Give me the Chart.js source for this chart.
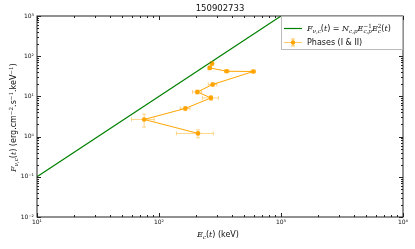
<!DOCTYPE html>
<html>
<head>
<meta charset="utf-8">
<script src="https://cdn.jsdelivr.net/npm/chart.js@4/dist/chart.umd.min.js"></script>
<style>
  html, body { margin: 0; padding: 0; background: #fff; }
  #wrap { width: 415px; height: 249px; }
</style>
</head>
<body>
<div id="wrap"><canvas id="sedChart" width="415" height="249"></canvas></div>
<script>
// peak energy (keV) and flux, with errors
const peakE = [271.6, 260.6, 358.9, 593, 275.4, 206, 266.6, 164.4, 75.5, 208.9];
const peakEErr = [10, 8, 15, 25, 22, 18, 40, 15, 16, 70];
const fluxF = [65.8, 51.1, 42.3, 41.6, 19.8, 12.9, 9.18, 5.01, 2.67, 1.20];
const fluxFErr = [8, 5, 3, 3, 2, 1.5, 1.2, 0.6, 0.95, 0.27];

// reference line F = N E^-1 E^2
const lineE = [10, 1000];
const lineF = [0.1, 1000];

const xTicks = [10, 100, 1000, 10000];
const yTicks = [0.01, 0.1, 1, 10, 100, 1000];
const supers = { '-': '⁻', '0': '⁰', '1': '¹', '2': '²', '3': '³', '4': '⁴' };
function powLabel(v) {
    const e = String(Math.round(Math.log10(v)));
    return '10' + e.split('').map(c => supers[c]).join('');
}

const FONT = '"DejaVu Sans", sans-serif';
const SERIF = '"DejaVu Serif", serif';

// draws a run of pieces [text, kind, extra] where kind = n | i | sub | sup | both
function drawMath(ctx, x, y, parts, size) {
    ctx.textBaseline = 'alphabetic';
    ctx.textAlign = 'left';
    for (const [txt, kind, low] of parts) {
        let s = size, dy = 0, f = FONT, st = '';
        if (kind === 'i') { f = SERIF; st = 'italic '; }
        if (kind === 'sub') { s = size * 0.7; dy = size * 0.25; f = SERIF; st = 'italic '; }
        if (kind === 'sup' || kind === 'both') { s = size * 0.7; dy = -size * 0.4; f = SERIF; }
        ctx.font = st + s + 'px ' + f;
        ctx.fillText(txt, x, y + dy);
        let adv = ctx.measureText(txt).width;
        if (kind === 'both') {
            ctx.font = 'italic ' + s + 'px ' + SERIF;
            ctx.fillText(low, x, y + size * 0.3);
            adv = Math.max(adv, ctx.measureText(low).width);
        }
        x += adv;
    }
    return x;
}

const decor = {
    id: 'decor',
    afterDraw(chart) {
        const ctx = chart.ctx;
        const a = chart.chartArea;
        const xs = chart.scales.x, ys = chart.scales.y;
        ctx.save();

        // error bars
        ctx.strokeStyle = 'rgba(255,165,0,0.45)';
        ctx.lineWidth = 1;
        for (let i = 0; i < peakE.length; i++) {
            const px = xs.getPixelForValue(peakE[i]);
            const py = ys.getPixelForValue(fluxF[i]);
            const x0 = xs.getPixelForValue(peakE[i] - peakEErr[i]);
            const x1 = xs.getPixelForValue(peakE[i] + peakEErr[i]);
            const y0 = ys.getPixelForValue(fluxF[i] - fluxFErr[i]);
            const y1 = ys.getPixelForValue(fluxF[i] + fluxFErr[i]);
            ctx.beginPath();
            ctx.moveTo(x0, py); ctx.lineTo(x1, py);
            ctx.moveTo(x0, py - 2); ctx.lineTo(x0, py + 2);
            ctx.moveTo(x1, py - 2); ctx.lineTo(x1, py + 2);
            ctx.moveTo(px, y0); ctx.lineTo(px, y1);
            ctx.moveTo(px - 2, y0); ctx.lineTo(px + 2, y0);
            ctx.moveTo(px - 2, y1); ctx.lineTo(px + 2, y1);
            ctx.stroke();
        }

        // frame
        ctx.strokeStyle = '#222';
        ctx.lineWidth = 1;
        ctx.strokeRect(a.left, a.top, a.right - a.left, a.bottom - a.top);

        // inward ticks on all four sides
        ctx.beginPath();
        for (let e = 1; e <= 4; e++) {
            for (let m = 1; m <= 9; m++) {
                const v = m * Math.pow(10, e);
                if (v > 10000) break;
                const p = Math.round(xs.getPixelForValue(v)) + 0.5;
                const len = m === 1 ? 4 : 2;
                ctx.moveTo(p, a.bottom); ctx.lineTo(p, a.bottom - len);
                ctx.moveTo(p, a.top); ctx.lineTo(p, a.top + len);
            }
        }
        for (let e = -2; e <= 3; e++) {
            for (let m = 1; m <= 9; m++) {
                const v = m * Math.pow(10, e);
                if (v > 1000) break;
                const p = Math.round(ys.getPixelForValue(v)) + 0.5;
                const len = m === 1 ? 4 : 2;
                ctx.moveTo(a.left, p); ctx.lineTo(a.left + len, p);
                ctx.moveTo(a.right, p); ctx.lineTo(a.right - len, p);
            }
        }
        ctx.stroke();

        ctx.fillStyle = '#111';
        // title
        ctx.font = '8.5px ' + FONT;
        ctx.textAlign = 'center';
        ctx.textBaseline = 'middle';
        ctx.fillText('150902733', (a.left + a.right) / 2, 9);

        // x label
        drawMath(ctx, 197, 237, [['E', 'i'], ['c', 'sub'], ['(', 'n'], ['t', 'i'], [') (keV)', 'n']], 8);

        // y label, rotated
        ctx.save();
        ctx.translate(16, 172);
        ctx.rotate(-Math.PI / 2);
        drawMath(ctx, 0, 0, [['F', 'i'], ['ν,c', 'sub'], ['(', 'n'], ['t', 'i'], [') (erg.cm', 'n'], ['−2', 'sup'], ['.s', 'n'], ['−1', 'sup'], ['.keV', 'n'], ['−1', 'sup'], [')', 'n']], 8);
        ctx.restore();

        // legend
        const lx = 281, ly = 16, lw = 121, lh = 33;
        ctx.fillStyle = '#fff';
        ctx.fillRect(lx, ly, lw, lh);
        ctx.strokeStyle = '#bbb';
        ctx.strokeRect(lx + 0.5, ly + 0.5, lw, lh);
        ctx.strokeStyle = 'green';
        ctx.lineWidth = 1.2;
        ctx.beginPath(); ctx.moveTo(284, 28.5); ctx.lineTo(302, 28.5); ctx.stroke();
        ctx.strokeStyle = 'rgba(255,165,0,0.6)';
        ctx.lineWidth = 1;
        ctx.beginPath();
        ctx.moveTo(284, 42.5); ctx.lineTo(302, 42.5);
        ctx.moveTo(293, 39); ctx.lineTo(293, 46);
        ctx.moveTo(291, 39); ctx.lineTo(295, 39);
        ctx.moveTo(291, 46); ctx.lineTo(295, 46);
        ctx.stroke();
        ctx.fillStyle = 'orange';
        ctx.beginPath(); ctx.arc(293, 42.5, 2.2, 0, Math.PI * 2); ctx.fill();
        ctx.fillStyle = '#111';
        drawMath(ctx, 307, 31, [['F', 'i'], ['ν,c', 'sub'], ['(', 'n'], ['t', 'i'], [') = ', 'n'], ['N', 'i'], ['c,p', 'sub'], ['E', 'i'], ['−1', 'both', 'c,p'], ['E', 'i'], ['2', 'both', 'c'], ['(', 'n'], ['t', 'i'], [')', 'n']], 8);
        drawMath(ctx, 307, 45, [['Phases (I & II)', 'n']], 8);

        ctx.restore();
    }
};

new Chart(document.getElementById('sedChart'), {
    type: 'scatter',
    data: {
        datasets: [
            {
                label: 'line',
                data: lineE.map((e, i) => ({ x: e, y: lineF[i] })),
                showLine: true,
                borderColor: 'green',
                borderWidth: 1.2,
                pointRadius: 0
            },
            {
                label: 'Phases (I & II)',
                data: peakE.map((e, i) => ({ x: e, y: fluxF[i] })),
                showLine: true,
                borderColor: 'orange',
                borderWidth: 1,
                backgroundColor: 'orange',
                pointBackgroundColor: 'orange',
                pointBorderWidth: 0,
                pointRadius: 2.3
            }
        ]
    },
    options: {
        responsive: false,
        animation: false,
        devicePixelRatio: 1,
        layout: { padding: { left: 0, right: 12, top: 16, bottom: 0 } },
        plugins: { legend: { display: false }, title: { display: false }, tooltip: { enabled: false } },
        scales: {
            x: {
                type: 'logarithmic',
                min: 10, max: 10000,
                grid: { display: false, drawTicks: false },
                border: { display: false },
                afterBuildTicks: s => { s.ticks = xTicks.map(v => ({ value: v })); },
                afterFit: s => { s.height = 32; },
                ticks: {
                    autoSkip: false, maxRotation: 0, padding: 2,
                    color: '#111', font: { size: 6, family: 'DejaVu Sans' },
                    callback: v => powLabel(v)
                }
            },
            y: {
                type: 'logarithmic',
                min: 0.01, max: 1000,
                grid: { display: false, drawTicks: false },
                border: { display: false },
                afterBuildTicks: s => { s.ticks = yTicks.map(v => ({ value: v })); },
                afterFit: s => { s.width = 37; },
                ticks: {
                    autoSkip: false, padding: 3,
                    color: '#111', font: { size: 6, family: 'DejaVu Sans' },
                    callback: v => powLabel(v)
                }
            }
        }
    },
    plugins: [decor]
});
</script>
</body>
</html>
